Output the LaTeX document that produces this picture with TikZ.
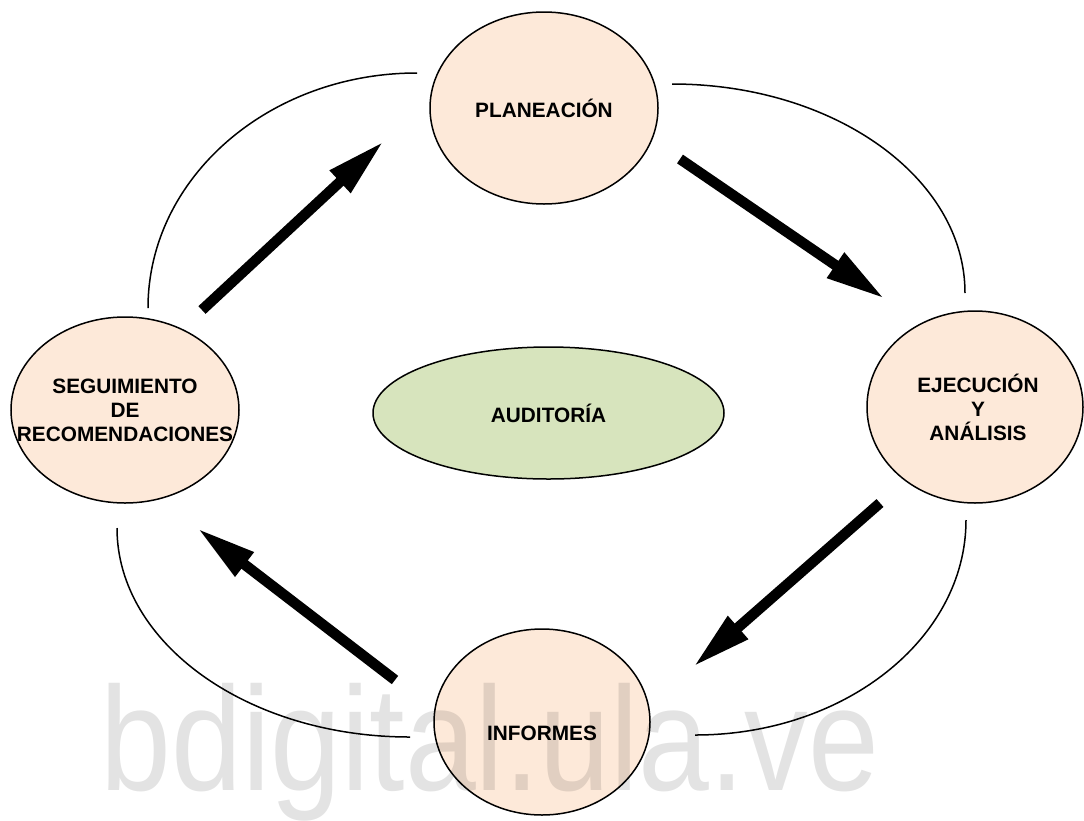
\documentclass[tikz,border=0pt]{standalone}
\usepackage{fontspec}
\setmainfont{Liberation Sans}
\usetikzlibrary{shapes.geometric,arrows.meta}
\definecolor{peach}{HTML}{FDE9D9}
\definecolor{audgreen}{HTML}{D7E4BD}
\begin{document}
\begin{tikzpicture}[x=1pt,y=-1pt,
  phase/.style={ellipse, draw, line width=1.5pt, fill=peach, inner sep=0pt},
  txt/.style={align=center, inner sep=0pt, font=\fontsize{20.8}{24}\selectfont\bfseries},
  ring/.style={line width=1.5pt},
  flow/.style={line width=10.5pt, -{Triangle[length=60pt,width=28pt]}},
  wmtext/.style={font=\fontsize{148}{148}\selectfont, text=black, text opacity=0.11, xscale=0.86, inner sep=0pt}]
\useasboundingbox (0,0) rectangle (1084,820);
% surrounding arcs
\coordinate (tlS) at (148,308);
\coordinate (trS) at (672,84);
\coordinate (brS) at (966,520);
\coordinate (blS) at (117,528);
\draw[ring] (tlS) arc[start angle=180, end angle=90, x radius=269pt, y radius=235pt];
\draw[ring] (trS) arc[start angle=90, end angle=0, x radius=293pt, y radius=209pt];
\draw[ring] (brS) arc[start angle=0, end angle=-90, x radius=271pt, y radius=215pt];
\draw[ring] (blS) arc[start angle=180, end angle=270, x radius=293pt, y radius=209pt];
% phases
\node[phase, minimum width=228pt, minimum height=192pt] (plan) at (544,108) {};
\node[phase, minimum width=216pt, minimum height=192pt] (ejec) at (975,407) {};
\node[phase, minimum width=228pt, minimum height=186pt] (seg) at (125,410) {};
\node[phase, minimum width=216pt, minimum height=186pt] (inf) at (542,722) {};
\node[phase, fill=audgreen, minimum width=351pt, minimum height=132pt] (aud) at (548.5,413) {};
\node[txt] (planT) at (plan.center) {PLANEACIÓN};
\node[txt] (ejecT) at ([xshift=3pt]ejec.center) {EJECUCIÓN\\Y\\ANÁLISIS};
\node[txt] (segT) at (seg.center) {SEGUIMIENTO\\DE\\RECOMENDACIONES};
\node[txt] (infT) at ([yshift=-11pt]inf.center) {INFORMES};
\node[txt] (audT) at (aud.center) {AUDITORÍA};
% flow arrows
\coordinate (a1s) at (202,310); \coordinate (a1e) at (384,141);
\coordinate (a2s) at (680,159); \coordinate (a2e) at (885,299);
\coordinate (a3s) at (880,503); \coordinate (a3e) at (693,667);
\coordinate (a4s) at (395,680); \coordinate (a4e) at (197,528);
\draw[flow] (a1s) -- (a1e);
\draw[flow] (a2s) -- (a2e);
\draw[flow] (a3s) -- (a3e);
\draw[flow] (a4s) -- (a4e);
% watermark
\node[wmtext, anchor=base] (wm) at (490,790) {bdigital.ula.ve};
\end{tikzpicture}
\end{document}
